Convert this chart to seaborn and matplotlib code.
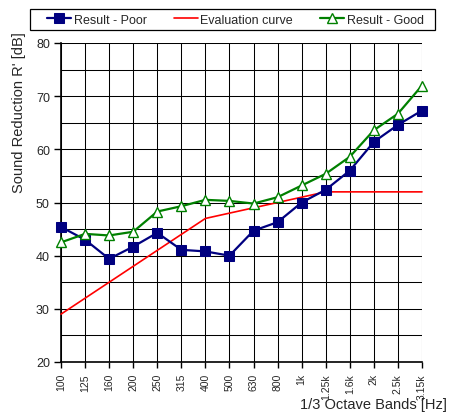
import matplotlib
matplotlib.use("Agg")
import matplotlib.pyplot as plt
from matplotlib.patches import Rectangle
import seaborn as sns
import pandas as pd
from matplotlib.ticker import MultipleLocator

bands = ["100", "125", "160", "200", "250", "315", "400", "500", "630", "800",
         "1k", "1.25k", "1.6k", "2k", "2.5k", "3.15k"]
result_poor = [45.4, 43.0, 39.4, 41.7, 44.3, 41.1, 40.8, 40.0, 44.7, 46.3,
               50.0, 52.4, 56.0, 61.4, 64.6, 67.3]
evaluation_curve = [29, 32, 35, 38, 41, 44, 47, 48, 49, 50, 51, 52, 52, 52, 52, 52]
result_good = [42.5, 44.1, 43.8, 44.5, 48.3, 49.3, 50.5, 50.3, 49.8, 51.0,
               53.2, 55.4, 58.6, 63.6, 66.7, 72.0]

df = pd.DataFrame({"band": bands, "poor": result_poor,
                   "curve": evaluation_curve, "good": result_good})

sns.set_theme(style="white")
plt.rcParams["font.family"] = ["Liberation Sans", "DejaVu Sans"]

W, H = 449, 414
fig = plt.figure(figsize=(W / 100, H / 100), dpi=100)
ax = fig.add_axes([61 / W, (H - 363) / H, (422 - 61) / W, (363 - 44) / H])

sns.lineplot(data=df, x="band", y="poor", ax=ax, color="#000080", lw=1.6,
             marker="s", markersize=6.8, markeredgecolor="#000080",
             markerfacecolor="#000080", sort=False, label="Result - Poor",
             zorder=4, clip_on=False)
sns.lineplot(data=df, x="band", y="curve", ax=ax, color="#ff0000", lw=1.2,
             sort=False, label="Evaluation curve", zorder=3, clip_on=False)
sns.lineplot(data=df, x="band", y="good", ax=ax, color="#008000", lw=1.6,
             marker="^", markersize=7.5, markeredgecolor="#008000",
             markerfacecolor="white", markeredgewidth=1.0, sort=False,
             label="Result - Good", zorder=5, clip_on=False)

ax.set_xlim(0, len(bands) - 1)
ax.set_ylim(20, 80)
ax.yaxis.set_major_locator(MultipleLocator(10))
ax.yaxis.set_minor_locator(MultipleLocator(5))
ax.set_xticks(range(len(bands)))
ax.set_xticklabels(bands, rotation=90, fontsize=7.5, va="top")
ax.tick_params(axis="y", which="major", length=5, width=1, color="black",
               labelsize=9, pad=3, left=True)
ax.tick_params(axis="y", which="minor", length=0)
ax.tick_params(axis="x", length=4, width=1, color="black", pad=4, bottom=True)
ax.grid(True, which="both", axis="y", color="black", lw=0.75)
ax.grid(True, which="major", axis="x", color="black", lw=0.75)
ax.set_axisbelow(True)
for side in ["top", "right"]:
    ax.spines[side].set_visible(False)
for side in ["left", "bottom"]:
    ax.spines[side].set_color("black")
    ax.spines[side].set_linewidth(1.2)

ax.set_xlabel("")
ax.set_ylabel("")
fig.text(19 / W, 1 - 113 / H, "Sound Reduction R' [dB]", rotation=90,
         ha="center", va="center", fontsize=10.5)
fig.text(447 / W, 1 - 405 / H, "1/3 Octave Bands [Hz]", ha="right",
         va="center", fontsize=10.5)

# legend box spanning the top of the figure, entries centred inside it
fig.patches.append(Rectangle((30 / W, 1 - 31 / H), 405 / W, 21 / H,
                             transform=fig.transFigure, fill=False,
                             edgecolor="black", lw=0.9))
handles, labels = ax.get_legend_handles_labels()
ax.get_legend().remove()
fig.legend(handles, labels, loc="center",
           bbox_to_anchor=(235.5 / W, 1 - 20.5 / H),
           ncol=3, fontsize=9, frameon=False, handlelength=1.9,
           handletextpad=0.2, columnspacing=2.2, borderpad=0.1,
           borderaxespad=0)

fig.savefig("out.png", dpi=100)
